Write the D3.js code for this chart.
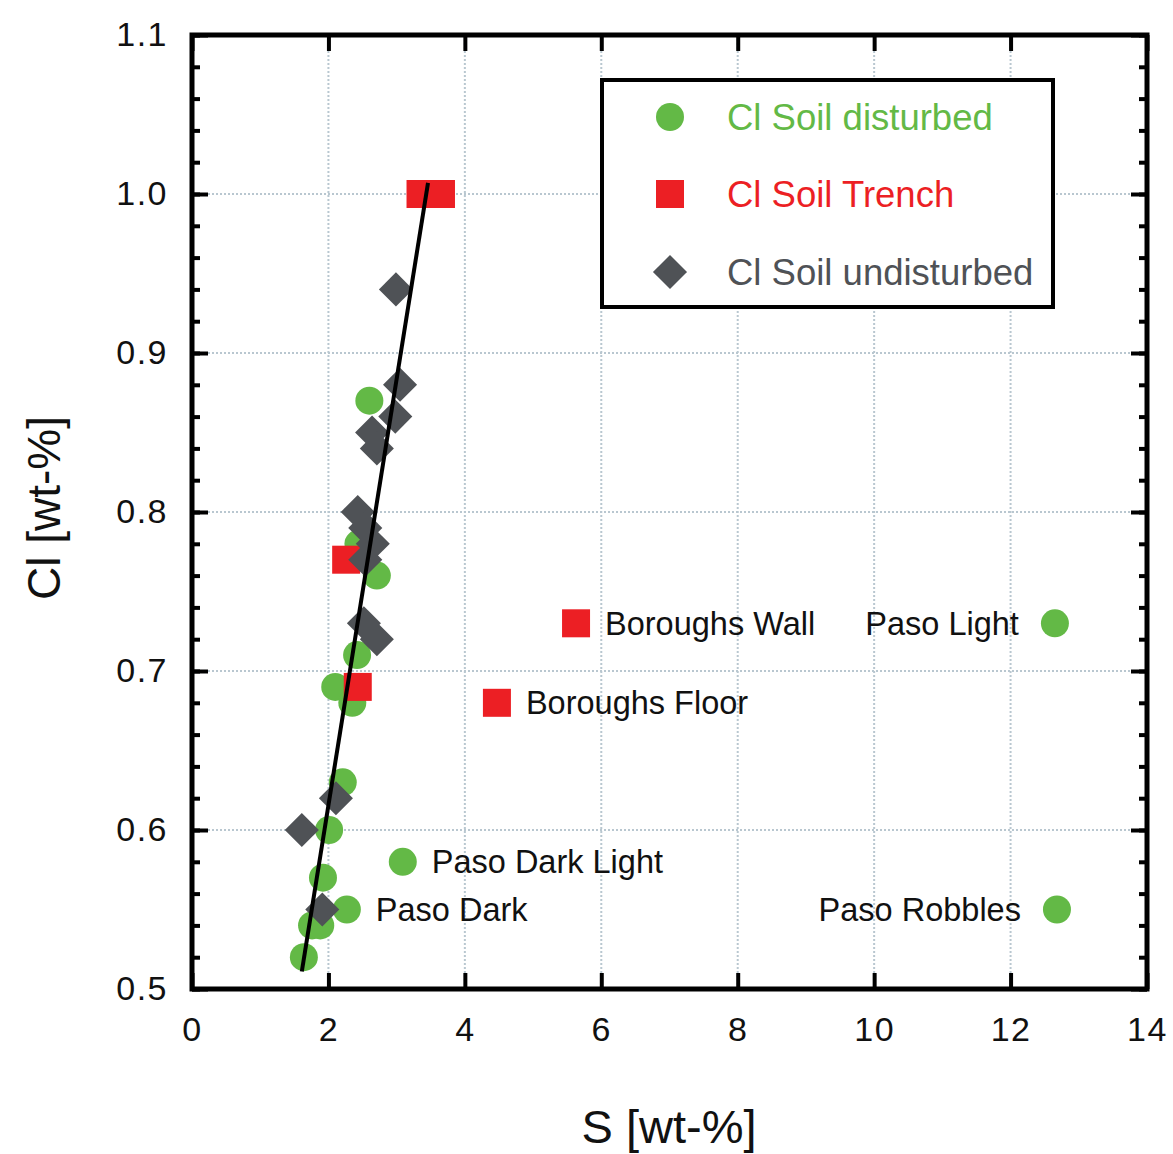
<!DOCTYPE html>
<html>
<head>
<meta charset="utf-8">
<script src="https://cdn.jsdelivr.net/npm/d3@7"></script>
<style>
  body { margin: 0; background: #fff; }
  text { font-family: Arial, "Liberation Sans", sans-serif; }
</style>
</head>
<body>
<svg id="chart" width="1173" height="1154"></svg>
<script>
// data
var disturbedS  = [2.6, 2.44, 2.71, 2.42, 2.1, 2.35, 2.21, 2.01, 3.09, 1.92, 2.27, 1.76, 1.88, 1.64, 12.65, 12.68];
var disturbedCl = [0.87, 0.78, 0.76, 0.71, 0.69, 0.68, 0.63, 0.60, 0.58, 0.57, 0.55, 0.54, 0.54, 0.52, 0.73, 0.55];
var trenchS  = [3.35, 3.65, 2.26, 2.43, 5.63, 4.47];
var trenchCl = [1.0, 1.0, 0.77, 0.69, 0.73, 0.68];
var undistS  = [2.99, 3.05, 2.98, 2.64, 2.71, 2.43, 2.54, 2.65, 2.54, 2.52, 2.71, 2.11, 1.61, 1.91];
var undistCl = [0.94, 0.88, 0.86, 0.85, 0.84, 0.80, 0.79, 0.78, 0.77, 0.73, 0.72, 0.62, 0.60, 0.55];
var fitS  = [1.61, 3.46];
var fitCl = [0.511, 1.007];
var labelNames = ['Boroughs Wall', 'Boroughs Floor', 'Paso Light', 'Paso Dark Light', 'Paso Dark', 'Paso Robbles'];
var labelS  = [5.63, 4.47, 12.65, 3.09, 2.27, 12.68];
var labelCl = [0.73, 0.68, 0.73, 0.58, 0.55, 0.55];
var labelLeft = [false, false, true, false, false, true];
var xTicks = [0, 2, 4, 6, 8, 10, 12, 14];
var yTicks = [0.5, 0.6, 0.7, 0.8, 0.9, 1.0, 1.1];
var legendNames = ['Cl Soil disturbed', 'Cl Soil Trench', 'Cl Soil undisturbed'];

var green = '#63b946', red = '#ec1f24', grey = '#4f5256';

var svg = d3.select('#chart');
var L = 192, R = 1147, T = 35, B = 989;
var x = d3.scaleLinear().domain([0, 14]).range([L, R]);
var y = d3.scaleLinear().domain([0.5, 1.1]).range([B, T]);

svg.append('rect').attr('width', 1173).attr('height', 1154).attr('fill', '#fff');

// grid
var grid = svg.append('g').attr('stroke', '#b9c7d0').attr('stroke-width', 2).attr('stroke-dasharray', '2,2');
grid.selectAll('.gx').data(xTicks.slice(1, -1)).enter().append('line')
    .attr('x1', d => x(d)).attr('x2', d => x(d)).attr('y1', T).attr('y2', B);
grid.selectAll('.gy').data(yTicks.slice(1, -1)).enter().append('line')
    .attr('y1', d => y(d)).attr('y2', d => y(d)).attr('x1', L).attr('x2', R);

// axes with inward ticks on all four sides
var yMinor = d3.range(0.5, 1.1001, 0.02);
svg.append('g').attr('transform', 'translate(0,' + B + ')')
   .call(d3.axisBottom(x).tickValues(xTicks).tickSize(-16).tickPadding(28).tickFormat(d3.format('d')));
svg.append('g').attr('transform', 'translate(0,' + T + ')')
   .call(d3.axisTop(x).tickValues(xTicks).tickSize(-16).tickFormat(''));
svg.append('g').attr('transform', 'translate(' + L + ',0)')
   .call(d3.axisLeft(y).tickValues(yMinor).tickSize(-8).tickFormat(''));
svg.append('g').attr('transform', 'translate(' + L + ',0)')
   .call(d3.axisLeft(y).tickValues(yTicks).tickSize(-16).tickPadding(24).tickFormat(d3.format('.1f')));
svg.append('g').attr('transform', 'translate(' + R + ',0)')
   .call(d3.axisRight(y).tickValues(yMinor).tickSize(-8).tickFormat(''));
svg.append('g').attr('transform', 'translate(' + R + ',0)')
   .call(d3.axisRight(y).tickValues(yTicks).tickSize(-16).tickFormat(''));
svg.selectAll('.domain').remove();
svg.selectAll('.tick line').attr('stroke', '#000').attr('stroke-width', 4);
svg.selectAll('.tick text').attr('fill', '#111').style('font-size', '34px').style('letter-spacing', '1.5px');

// frame
svg.append('rect').attr('x', L).attr('y', T).attr('width', R - L).attr('height', B - T)
   .attr('fill', 'none').attr('stroke', '#000').attr('stroke-width', 5);

// points
var pts = svg.append('g');
pts.selectAll('.dist').data(d3.zip(disturbedS, disturbedCl)).enter().append('circle')
   .attr('cx', d => x(d[0])).attr('cy', d => y(d[1])).attr('r', 14).attr('fill', green);
pts.selectAll('.tr').data(d3.zip(trenchS, trenchCl)).enter().append('rect')
   .attr('x', d => x(d[0]) - 14).attr('y', d => y(d[1]) - 14).attr('width', 28).attr('height', 28).attr('fill', red);
pts.selectAll('.und').data(d3.zip(undistS, undistCl)).enter().append('path')
   .attr('d', d3.symbol(d3.symbolDiamond2, 740))
   .attr('transform', d => 'translate(' + x(d[0]) + ',' + y(d[1]) + ')').attr('fill', grey);

// regression line
svg.append('path').datum(d3.zip(fitS, fitCl))
   .attr('d', d3.line().x(d => x(d[0])).y(d => y(d[1])))
   .attr('stroke', '#000').attr('stroke-width', 4).attr('fill', 'none');

// point labels
svg.selectAll('.lab').data(labelNames).enter().append('text')
   .attr('x', (d, i) => x(labelS[i]) + (labelLeft[i] ? -36 : 29))
   .attr('y', (d, i) => y(labelCl[i]))
   .attr('dy', '0.35em')
   .attr('text-anchor', (d, i) => labelLeft[i] ? 'end' : 'start')
   .style('font-size', '32.5px').attr('fill', '#111')
   .text(d => d);

// legend
var leg = svg.append('g');
leg.append('rect').attr('x', 602).attr('y', 80).attr('width', 451).attr('height', 227)
   .attr('fill', '#fff').attr('stroke', '#000').attr('stroke-width', 4);
var rowY = [117, 194, 272];
leg.append('circle').attr('cx', 670).attr('cy', rowY[0]).attr('r', 14).attr('fill', green);
leg.append('rect').attr('x', 656).attr('y', rowY[1] - 14).attr('width', 28).attr('height', 28).attr('fill', red);
leg.append('path').attr('d', d3.symbol(d3.symbolDiamond2, 740))
   .attr('transform', 'translate(670,' + rowY[2] + ')').attr('fill', grey);
leg.selectAll('.lt').data(legendNames).enter().append('text')
   .attr('x', 727).attr('y', (d, i) => rowY[i]).attr('dy', '0.35em')
   .style('font-size', '36.5px')
   .attr('fill', (d, i) => [green, red, grey][i])
   .text(d => d);

// axis titles
svg.append('text').attr('x', 669).attr('y', 1143).attr('text-anchor', 'middle')
   .style('font-size', '47px').attr('fill', '#111').text('S [wt-%]');
svg.append('text').attr('transform', 'translate(60,508) rotate(-90)').attr('text-anchor', 'middle')
   .style('font-size', '46px').attr('fill', '#111').text('Cl [wt-%]');
</script>
</body>
</html>
